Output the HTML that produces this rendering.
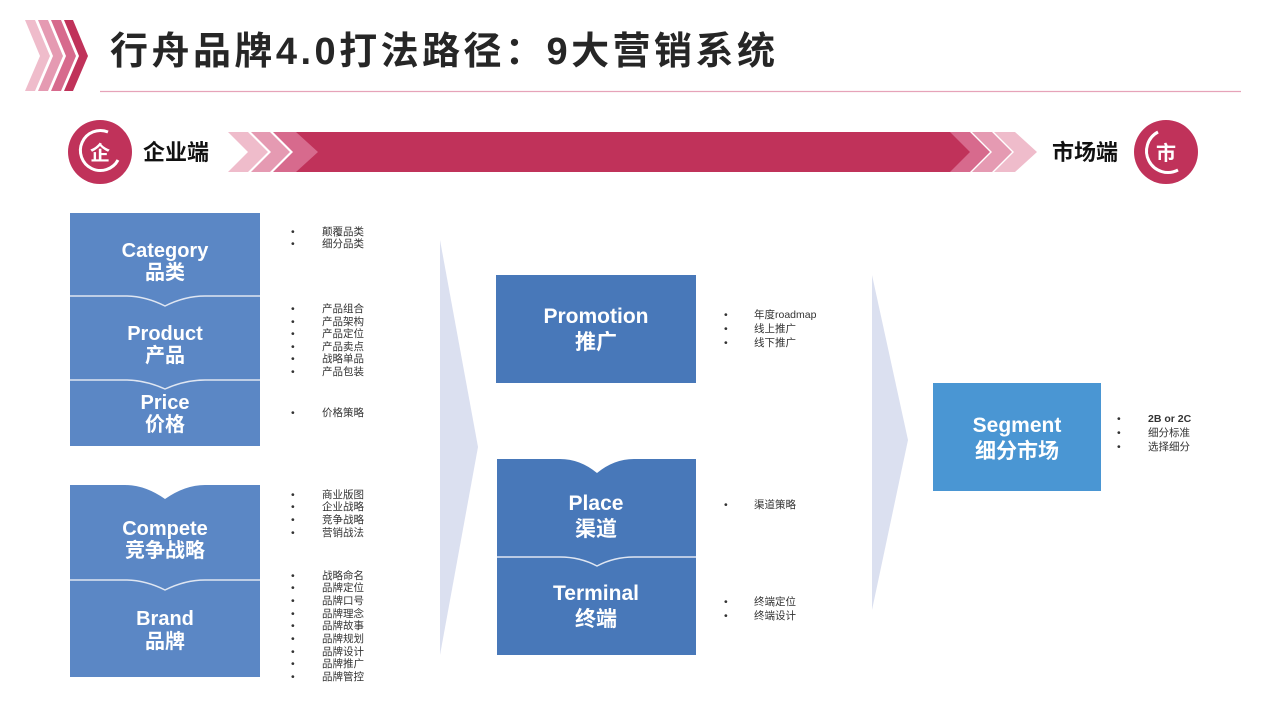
<!DOCTYPE html>
<html><head><meta charset="utf-8"><style>
html,body{margin:0;padding:0;background:#fff;width:1266px;height:710px;overflow:hidden}
svg{display:block}
text{font-family:"Liberation Sans","Noto Sans CJK SC",sans-serif}
</style></head><body>
<svg width="1266" height="710" viewBox="0 0 1266 710">
<polygon points="25,20 35,20 50,56 35,91 25,91 40,56" fill="#efbccb"/>
<polygon points="38,20 48,20 63,56 48,91 38,91 53,56" fill="#e59ab2"/>
<polygon points="51,20 61,20 76,56 61,91 51,91 66,56" fill="#d76a8d"/>
<polygon points="64,20 73,20 88,56 73,91 64,91 79,56" fill="#c0325a"/>
<text x="110" y="64" font-size="38" font-weight="bold" fill="#262626" textLength="665" lengthAdjust="spacing">行舟品牌4.0打法路径：9大营销系统</text>
<line x1="100" y1="91.5" x2="1241" y2="91.5" stroke="#e6a3b9" stroke-width="1.2"/>

<circle cx="100" cy="152" r="32" fill="#c0325a"/>
<path d="M108,132 A20,20 0 1 0 118,160" fill="none" stroke="#fff" stroke-width="3"/>
<text x="100" y="160" font-size="20" font-weight="bold" fill="#fff" text-anchor="middle">企</text>
<text x="143" y="160" font-size="22" font-weight="bold" fill="#111">企业端</text>

<polygon points="295,132 960,132 980,152 960,172 295,172" fill="#c0325a"/>
<polygon points="228,132 248,132 268,152 248,172 228,172 248,152" fill="#efbccb"/>
<polygon points="251,132 270,132 290,152 270,172 251,172 271,152" fill="#e59ab2"/>
<polygon points="273,132 296,132 318,152 296,172 273,172 293,152" fill="#d76a8d"/>
<polygon points="950,132 970,132 990,152 970,172 950,172 970,152" fill="#d76a8d"/>
<polygon points="972,132 992,132 1012,152 992,172 972,172 992,152" fill="#e59ab2"/>
<polygon points="994,132 1015,132 1037,152 1015,172 994,172 1014,152" fill="#efbccb"/>

<text x="1052" y="160" font-size="22" font-weight="bold" fill="#111">市场端</text>
<circle cx="1166" cy="152" r="32" fill="#c0325a"/>
<path d="M1158,132 A20,20 0 1 0 1178,170" fill="none" stroke="#fff" stroke-width="3"/>
<text x="1166" y="160" font-size="20" font-weight="bold" fill="#fff" text-anchor="middle">市</text>

<rect x="70" y="213" width="190" height="233" fill="#5b87c5"/>
<path d="M70,296 L125,296 Q145,296 165,306 Q185,296 205,296 L260,296" fill="none" stroke="#dfe6f2" stroke-width="1.5"/>
<path d="M70,380 L125,380 Q145,380 165,389 Q185,380 205,380 L260,380" fill="none" stroke="#dfe6f2" stroke-width="1.5"/>
<g font-size="20" font-weight="bold" fill="#fff" text-anchor="middle">
<text x="165" y="257">Category</text><text x="165" y="279">品类</text>
<text x="165" y="340">Product</text><text x="165" y="362">产品</text>
<text x="165" y="409">Price</text><text x="165" y="431">价格</text>
</g>

<path d="M70,485 L125,485 Q145,485 165,499 Q185,485 205,485 L260,485 V677 H70 Z" fill="#5b87c5"/>
<path d="M70,580 L125,580 Q145,580 165,590 Q185,580 205,580 L260,580" fill="none" stroke="#dfe6f2" stroke-width="1.5"/>
<g font-size="20" font-weight="bold" fill="#fff" text-anchor="middle">
<text x="165" y="535">Compete</text><text x="165" y="557">竞争战略</text>
<text x="165" y="625">Brand</text><text x="165" y="648">品牌</text>
</g>

<g font-size="10.5" fill="#333">
<text x="291" y="235">•</text><text x="322" y="235">颠覆品类</text>
<text x="291" y="247">•</text><text x="322" y="247">细分品类</text>
<text x="291" y="312">•</text><text x="322" y="312">产品组合</text>
<text x="291" y="325">•</text><text x="322" y="325">产品架构</text>
<text x="291" y="337">•</text><text x="322" y="337">产品定位</text>
<text x="291" y="350">•</text><text x="322" y="350">产品卖点</text>
<text x="291" y="362">•</text><text x="322" y="362">战略单品</text>
<text x="291" y="375">•</text><text x="322" y="375">产品包装</text>
<text x="291" y="416">•</text><text x="322" y="416">价格策略</text>
<text x="291" y="498">•</text><text x="322" y="498">商业版图</text>
<text x="291" y="510">•</text><text x="322" y="510">企业战略</text>
<text x="291" y="523">•</text><text x="322" y="523">竞争战略</text>
<text x="291" y="536">•</text><text x="322" y="536">营销战法</text>
<text x="291" y="579">•</text><text x="322" y="579">战略命名</text>
<text x="291" y="591">•</text><text x="322" y="591">品牌定位</text>
<text x="291" y="604">•</text><text x="322" y="604">品牌口号</text>
<text x="291" y="617">•</text><text x="322" y="617">品牌理念</text>
<text x="291" y="629">•</text><text x="322" y="629">品牌故事</text>
<text x="291" y="642">•</text><text x="322" y="642">品牌规划</text>
<text x="291" y="655">•</text><text x="322" y="655">品牌设计</text>
<text x="291" y="667">•</text><text x="322" y="667">品牌推广</text>
<text x="291" y="680">•</text><text x="322" y="680">品牌管控</text>
<text x="724" y="318">•</text><text x="754" y="318">年度roadmap</text>
<text x="724" y="332">•</text><text x="754" y="332">线上推广</text>
<text x="724" y="346">•</text><text x="754" y="346">线下推广</text>
<text x="724" y="508">•</text><text x="754" y="508">渠道策略</text>
<text x="724" y="605">•</text><text x="754" y="605">终端定位</text>
<text x="724" y="619">•</text><text x="754" y="619">终端设计</text>
<text x="1117" y="422">•</text><text x="1148" y="422" font-weight="bold">2B or 2C</text>
<text x="1117" y="436">•</text><text x="1148" y="436">细分标准</text>
<text x="1117" y="450">•</text><text x="1148" y="450">选择细分</text>
</g>

<polygon points="440,240 478,447 440,655" fill="#dbe0f0"/>
<polygon points="872,275 908,440 872,610" fill="#dbe0f0"/>

<rect x="496" y="275" width="200" height="108" fill="#4878b9"/>
<path d="M497,459 L560,459 Q580,459 597,473 Q614,459 634,459 L696,459 V655 H497 Z" fill="#4878b9"/>
<path d="M497,557 L560,557 Q580,557 597,566 Q614,557 634,557 L696,557" fill="none" stroke="#dfe6f2" stroke-width="1.5"/>
<g font-size="21" font-weight="bold" fill="#fff" text-anchor="middle">
<text x="596" y="323">Promotion</text><text x="596" y="349">推广</text>
<text x="596" y="510">Place</text><text x="596" y="536">渠道</text>
<text x="596" y="600">Terminal</text><text x="596" y="626">终端</text>
</g>

<rect x="933" y="383" width="168" height="108" fill="#4a96d3"/>
<g font-size="21" font-weight="bold" fill="#fff" text-anchor="middle">
<text x="1017" y="432">Segment</text><text x="1017" y="458">细分市场</text>
</g>
</svg>
</body></html>
